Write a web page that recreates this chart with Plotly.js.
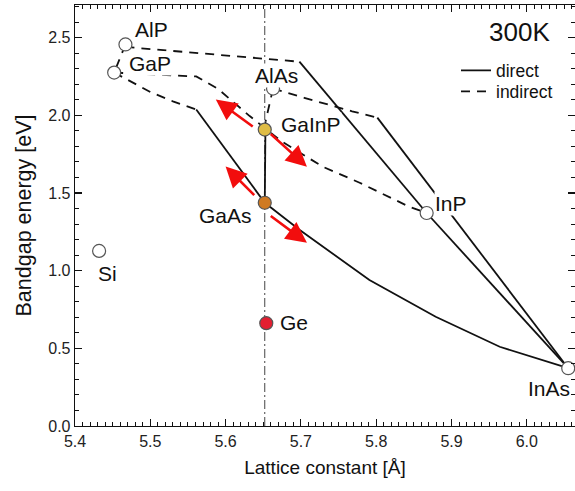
<!DOCTYPE html>
<html>
<head>
<meta charset="utf-8">
<script src="https://cdn.plot.ly/plotly-3.0.1.min.js"></script>
<style>html,body{margin:0;padding:0;background:#fff;}#plot{width:575px;height:491px;}</style>
</head>
<body>
<div id="plot"></div>
<script>
// ---- data ----
const compounds = ['AlP', 'GaP', 'AlAs', 'GaInP', 'GaAs', 'Ge', 'Si', 'InP', 'InAs'];
const latticeA  = [5.467, 5.452, 5.663, 5.652, 5.652, 5.654, 5.432, 5.867, 6.055];
const bandgapEV = [2.456, 2.275, 2.172, 1.908, 1.437, 0.662, 1.127, 1.371, 0.372];

const latticeMatchA = 5.652;

// alloy curves (x = lattice constant, y = bandgap)
const alGaP_ind_x = [5.467, 5.452];
const alGaP_ind_y = [2.456, 2.275];
const alInP_ind_x = [5.467, 5.59, 5.698];
const alInP_ind_y = [2.44, 2.39, 2.345];
const alInP_dir_x = [5.698, 5.867];
const alInP_dir_y = [2.345, 1.371];
const gaInP_ind_x = [5.452, 5.50, 5.561, 5.59, 5.632, 5.675, 5.729, 5.778, 5.844, 5.867];
const gaInP_ind_y = [2.275, 2.265, 2.25, 2.17, 1.995, 1.83, 1.669, 1.566, 1.411, 1.371];
const gaAsP_ind_x = [5.452, 5.50, 5.53, 5.561];
const gaAsP_ind_y = [2.275, 2.15, 2.09, 2.037];
const gaAsP_dir_x = [5.561, 5.652];
const gaAsP_dir_y = [2.037, 1.437];
const alGaAs_ind_x = [5.663, 5.653];
const alGaAs_ind_y = [2.172, 1.96];
const alGaAs_dir_x = [5.653, 5.652];
const alGaAs_dir_y = [1.96, 1.437];
const alInAs_ind_x = [5.663, 5.7045, 5.768, 5.8015];
const alInAs_ind_y = [2.172, 2.112, 2.026, 1.985];
const alInAs_dir_x = [5.8015, 6.055];
const alInAs_dir_y = [1.985, 0.372];
const inAsP_dir_x = [5.867, 6.055];
const inAsP_dir_y = [1.371, 0.372];
const gaInAs_dir_x = [5.652, 5.698, 5.791, 5.879, 5.964, 6.055];
const gaInAs_dir_y = [1.437, 1.263, 0.94, 0.703, 0.51, 0.372];

// red strain arrows
const arrowTailX = [5.638, 5.658, 5.640, 5.658];
const arrowTailY = [1.921, 1.888, 1.477, 1.359];
const arrowHeadX = [5.587, 5.708, 5.600, 5.708];
const arrowHeadY = [2.101, 1.669, 1.671, 1.179];

// label anchor positions
const labelX = [5.502, 5.499, 5.667, 5.713, 5.600, 5.691, 5.443, 5.899, 6.030];
const labelY = [2.553, 2.334, 2.256, 1.940, 1.353, 0.669, 0.979, 1.430, 0.243];

const tempLabel = '300K';
const legendNames = ['direct', 'indirect'];

// ---- styles ----
const FONT = '"Liberation Sans", Arial, sans-serif';
const markerFill = ['#ffffff', '#ffffff', '#ffffff', '#dfbd45', '#cf7a22', '#e31f30', '#ffffff', '#ffffff', '#ffffff'];
const solid = {color: '#111', width: 1.8};
const dashed = {color: '#111', width: 1.8, dash: '9px,7px'};

function seg(x, y, line, name, show, leg) {
  const t = {x: x, y: y, type: 'scatter', mode: 'lines', line: line,
          name: name || '', showlegend: !!show, hoverinfo: 'skip'};
  if (leg) t.legend = leg;
  return t;
}

const traces = [
  seg(alInP_dir_x, alInP_dir_y, solid, legendNames[0], true, 'legend'),
  seg(alGaP_ind_x, alGaP_ind_y, dashed, legendNames[1], true, 'legend2'),
  seg(alInP_ind_x, alInP_ind_y, dashed),
  seg(gaInP_ind_x, gaInP_ind_y, dashed),
  seg(gaAsP_ind_x, gaAsP_ind_y, dashed),
  seg(gaAsP_dir_x, gaAsP_dir_y, solid),
  seg(alGaAs_ind_x, alGaAs_ind_y, dashed),
  seg(alGaAs_dir_x, alGaAs_dir_y, solid),
  seg(alInAs_ind_x, alInAs_ind_y, dashed),
  seg(alInAs_dir_x, alInAs_dir_y, solid),
  seg(inAsP_dir_x, inAsP_dir_y, solid),
  seg(gaInAs_dir_x, gaInAs_dir_y, solid),
  {x: latticeA, y: bandgapEV, type: 'scatter', mode: 'markers', showlegend: false,
   marker: {size: 13, color: markerFill, line: {color: '#555', width: 1.2}}, hoverinfo: 'skip'}
];

const annotations = [];
compounds.forEach(function (c, i) {
  annotations.push({x: labelX[i], y: labelY[i], xref: 'x', yref: 'y', text: c, showarrow: false,
    font: {family: FONT, size: 21, color: '#111'}, bgcolor: 'rgba(255,255,255,1)', borderpad: 0,
    xanchor: 'center', yanchor: 'middle'});
});
for (let i = 0; i < arrowTailX.length; i++) {
  annotations.push({x: arrowHeadX[i], y: arrowHeadY[i], ax: arrowTailX[i], ay: arrowTailY[i],
    xref: 'x', yref: 'y', axref: 'x', ayref: 'y', text: '', showarrow: true,
    arrowcolor: '#f20d0d', arrowwidth: 2.6, arrowhead: 2, arrowsize: 1.6, standoff: 0, startstandoff: 0});
}
annotations.push({x: 0.888, y: 0.935, xref: 'paper', yref: 'paper', text: tempLabel, showarrow: false,
  font: {family: FONT, size: 26, color: '#111'}, xanchor: 'center', yanchor: 'middle'});

const legFont = {family: FONT, size: 17.5, color: '#111'};
const layout = {
  width: 575, height: 491,
  margin: {l: 75, r: 0, t: 5, b: 65},
  paper_bgcolor: '#fff', plot_bgcolor: '#fff',
  font: {family: FONT, color: '#111'},
  showlegend: true,
  legend: {x: 0.762, y: 0.8874, xanchor: 'left', yanchor: 'top', bgcolor: 'rgba(0,0,0,0)', font: legFont},
  legend2: {x: 0.762, y: 0.8375, xanchor: 'left', yanchor: 'top', bgcolor: 'rgba(0,0,0,0)', font: legFont},
  xaxis: {
    range: [5.4, 6.064], dtick: 0.1, tick0: 5.4, tickformat: '.1f',
    showgrid: false, zeroline: false, showline: true, linecolor: '#111', linewidth: 1.3,
    mirror: 'ticks', ticks: 'inside', ticklen: 7, tickwidth: 1.1, tickcolor: '#111',
    minor: {dtick: 0.01, ticks: 'inside', ticklen: 4, tickwidth: 1, tickcolor: '#111', showgrid: false},
    tickfont: {family: FONT, size: 16, color: '#222'},
    title: {text: 'Lattice constant [Å]', font: {family: FONT, size: 19, color: '#111'}, standoff: 12}
  },
  yaxis: {
    range: [0, 2.71], dtick: 0.5, tick0: 0, tickformat: '.1f',
    showgrid: false, zeroline: false, showline: true, linecolor: '#111', linewidth: 1.3,
    mirror: 'ticks', ticks: 'inside', ticklen: 7, tickwidth: 1.1, tickcolor: '#111',
    minor: {dtick: 0.1, ticks: 'inside', ticklen: 4, tickwidth: 1, tickcolor: '#111', showgrid: false},
    tickfont: {family: FONT, size: 16, color: '#222'},
    title: {text: 'Bandgap energy [eV]', font: {family: FONT, size: 21.5, color: '#111'}, standoff: 10}
  },
  shapes: [{type: 'line', xref: 'x', yref: 'paper', x0: latticeMatchA, x1: latticeMatchA, y0: 0, y1: 1,
            line: {color: '#444', width: 1, dash: '9px,3px,2px,3px'}, layer: 'below'}],
  annotations: annotations
};

Plotly.newPlot('plot', traces, layout, {staticPlot: true, displayModeBar: false});
</script>
</body>
</html>
